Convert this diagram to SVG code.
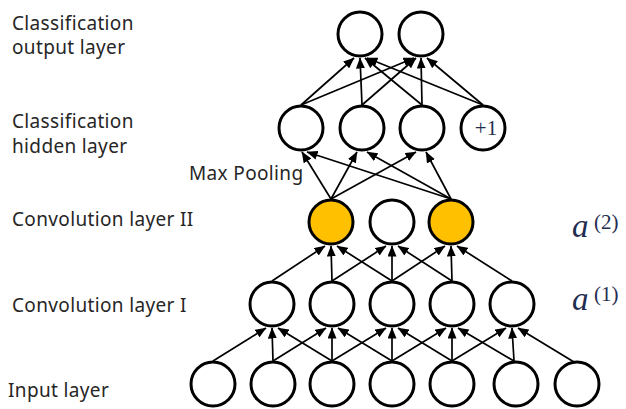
<svg xmlns="http://www.w3.org/2000/svg" width="626" height="409" viewBox="0 0 626 409">
<defs>
<marker id="ah" markerWidth="11" markerHeight="9" refX="10.5" refY="4.5" orient="auto" markerUnits="userSpaceOnUse">
<path d="M0,0 L11,4.5 L0,9 z" fill="#000"/>
</marker>
<style>
.n{fill:#fff;stroke:#000;stroke-width:3}
.y{fill:#FFC000;stroke:#000;stroke-width:3}
.c line{stroke:#000;stroke-width:1.7;marker-end:url(#ah)}
.lb{font-family:"Noto Sans","Open Sans",sans-serif;font-size:19px;letter-spacing:0.35px;fill:#262626}
.m{font-family:"Liberation Serif",serif;fill:#1f2d50}
</style>
</defs>
<rect width="626" height="409" fill="#fff"/>

<g id="labels">
<text class="lb" x="12" y="30">Classification</text>
<text class="lb" x="12" y="54">output layer</text>
<text class="lb" x="12" y="128">Classification</text>
<text class="lb" x="12" y="153">hidden layer</text>
<text class="lb" x="189" y="180">Max Pooling</text>
<text class="lb" x="12" y="226">Convolution layer II</text>
<text class="lb" x="12" y="312">Convolution layer I</text>
<text class="lb" x="8" y="397">Input layer</text>
<text class="m" x="572" y="237" font-size="33" font-style="italic">a</text>
<text class="m" x="594" y="229" font-size="21">(2)</text>
<text class="m" x="572" y="310" font-size="33" font-style="italic">a</text>
<text class="m" x="594" y="301" font-size="21">(1)</text>
</g>

<g id="connectors" class="c">
<!-- input -> conv I -->
<line x1="213" y1="361" x2="266" y2="328"/>
<line x1="273" y1="361" x2="272" y2="328"/>
<line x1="332" y1="361" x2="278" y2="328"/>
<line x1="273" y1="361" x2="326" y2="328"/>
<line x1="332" y1="361" x2="332" y2="328"/>
<line x1="392" y1="361" x2="338" y2="328"/>
<line x1="332" y1="361" x2="386" y2="328"/>
<line x1="392" y1="361" x2="392" y2="328"/>
<line x1="452" y1="361" x2="398" y2="328"/>
<line x1="392" y1="361" x2="446" y2="328"/>
<line x1="452" y1="361" x2="452" y2="328"/>
<line x1="514" y1="361" x2="458" y2="328"/>
<line x1="452" y1="361" x2="506" y2="328"/>
<line x1="514" y1="361" x2="512" y2="328"/>
<line x1="574" y1="362" x2="518" y2="328"/>
<!-- conv I -> conv II -->
<line x1="272" y1="281" x2="325" y2="246"/>
<line x1="332" y1="281" x2="331" y2="246"/>
<line x1="392" y1="281" x2="337" y2="246"/>
<line x1="332" y1="281" x2="386" y2="246"/>
<line x1="392" y1="281" x2="392" y2="246"/>
<line x1="452" y1="281" x2="398" y2="246"/>
<line x1="392" y1="281" x2="445" y2="246"/>
<line x1="452" y1="281" x2="451" y2="246"/>
<line x1="512" y1="281" x2="457" y2="246"/>
<!-- conv II -> hidden (max pooling) -->
<line x1="331" y1="199" x2="302" y2="152"/>
<line x1="331" y1="199" x2="357" y2="152"/>
<line x1="331" y1="199" x2="416" y2="152"/>
<line x1="451" y1="199" x2="307" y2="152"/>
<line x1="451" y1="199" x2="367" y2="152"/>
<line x1="451" y1="199" x2="426" y2="152"/>
<!-- hidden -> output -->
<line x1="301" y1="105" x2="354" y2="58"/>
<line x1="362" y1="105" x2="360" y2="58"/>
<line x1="422" y1="105" x2="365" y2="58"/>
<line x1="483" y1="105" x2="367" y2="58"/>
<line x1="301" y1="105" x2="414" y2="58"/>
<line x1="362" y1="105" x2="416" y2="58"/>
<line x1="422" y1="105" x2="421" y2="58"/>
<line x1="483" y1="105" x2="427" y2="58"/>
</g>

<g id="out1"><circle class="n" cx="360" cy="34" r="22"/></g>
<g id="out2"><circle class="n" cx="421" cy="34" r="22"/></g>

<g id="hid1"><circle class="n" cx="301" cy="128" r="22"/></g>
<g id="hid2"><circle class="n" cx="362" cy="128" r="22"/></g>
<g id="hid3"><circle class="n" cx="422" cy="128" r="22"/></g>
<g id="hidBias"><circle class="n" cx="483" cy="128" r="22"/><text class="m" x="486" y="135" font-size="21" text-anchor="middle">+1</text></g>

<g id="conv2a"><circle class="y" cx="331" cy="222" r="22"/></g>
<g id="conv2b"><circle class="n" cx="392" cy="222" r="22"/></g>
<g id="conv2c"><circle class="y" cx="451" cy="222" r="22"/></g>

<g id="conv1a"><circle class="n" cx="272" cy="304" r="22"/></g>
<g id="conv1b"><circle class="n" cx="332" cy="304" r="22"/></g>
<g id="conv1c"><circle class="n" cx="392" cy="304" r="22"/></g>
<g id="conv1d"><circle class="n" cx="452" cy="304" r="22"/></g>
<g id="conv1e"><circle class="n" cx="512" cy="304" r="22"/></g>

<g id="in1"><circle class="n" cx="213" cy="384" r="22"/></g>
<g id="in2"><circle class="n" cx="273" cy="384" r="22"/></g>
<g id="in3"><circle class="n" cx="332" cy="384" r="22"/></g>
<g id="in4"><circle class="n" cx="392" cy="384" r="22"/></g>
<g id="in5"><circle class="n" cx="452" cy="384" r="22"/></g>
<g id="in6"><circle class="n" cx="516" cy="384" r="22"/></g>
<g id="in7"><circle class="n" cx="577" cy="384" r="22"/></g>
</svg>
